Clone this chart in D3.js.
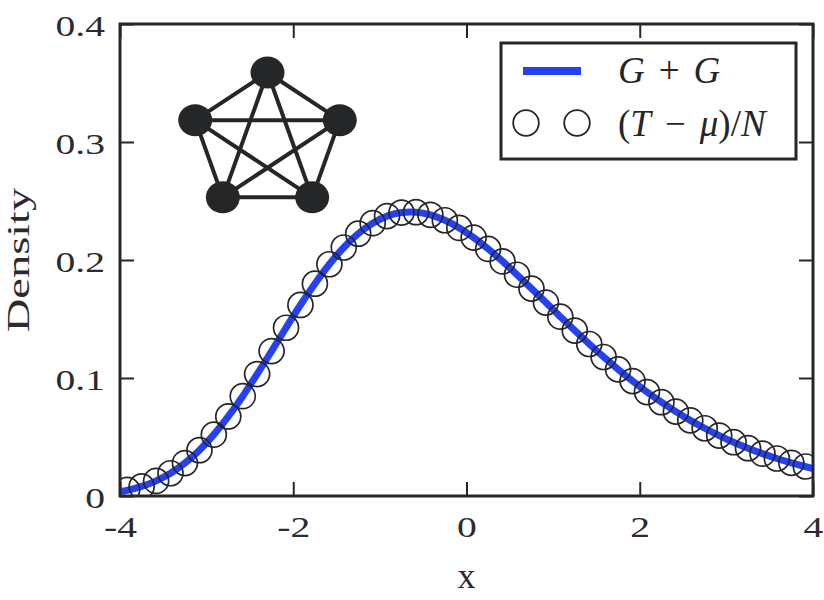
<!DOCTYPE html>
<html><head><meta charset="utf-8">
<script src="https://cdn.jsdelivr.net/npm/d3@7"></script>
<style>body{margin:0;background:#fff} svg{display:block}</style>
</head><body><svg id="c" width="824" height="600"></svg>
<script>
// ---- data ----
const xTicks = [-4, -2, 0, 2, 4];
const xTickLabels = ["-4", "-2", "0", "2", "4"];
const yTicks = [0, 0.1, 0.2, 0.3, 0.4];
const yTickLabels = ["0", "0.1", "0.2", "0.3", "0.4"];

// G + G density (line)
const lineX = [-4.000,-3.917,-3.750,-3.583,-3.417,-3.250,-3.083,-2.917,-2.750,-2.583,-2.417,-2.250,-2.083,-1.917,-1.750,-1.583,-1.417,-1.250,-1.083,-0.917,-0.750,-0.583,-0.417,-0.250,-0.083,0.083,0.250,0.417,0.583,0.750,0.917,1.083,1.250,1.417,1.583,1.750,1.917,2.083,2.250,2.417,2.583,2.750,2.917,3.083,3.250,3.417,3.583,3.750,3.917,4.000];
const lineY = [0.0037,0.0048,0.0081,0.0128,0.0193,0.0279,0.0388,0.0520,0.0674,0.0846,0.1033,0.1228,0.1426,0.1619,0.1799,0.1964,0.2106,0.2223,0.2312,0.2372,0.2402,0.2405,0.2383,0.2337,0.2272,0.2190,0.2094,0.1988,0.1875,0.1758,0.1639,0.1520,0.1402,0.1288,0.1178,0.1073,0.0974,0.0881,0.0795,0.0715,0.0641,0.0574,0.0512,0.0456,0.0405,0.0359,0.0318,0.0281,0.0248,0.0233];

// (T - mu)/N  (circles)
const circleX = [-3.917,-3.750,-3.583,-3.417,-3.250,-3.083,-2.917,-2.750,-2.583,-2.417,-2.250,-2.083,-1.917,-1.750,-1.583,-1.417,-1.250,-1.083,-0.917,-0.750,-0.583,-0.417,-0.250,-0.083,0.083,0.250,0.417,0.583,0.750,0.917,1.083,1.250,1.417,1.583,1.750,1.917,2.083,2.250,2.417,2.583,2.750,2.917,3.083,3.250,3.417,3.583,3.750,3.917];
const circleY = [0.0052,0.0081,0.0128,0.0193,0.0279,0.0388,0.0520,0.0674,0.0846,0.1033,0.1228,0.1426,0.1619,0.1799,0.1964,0.2106,0.2223,0.2312,0.2372,0.2402,0.2405,0.2383,0.2337,0.2272,0.2190,0.2094,0.1988,0.1875,0.1758,0.1639,0.1520,0.1402,0.1288,0.1178,0.1073,0.0974,0.0881,0.0795,0.0715,0.0641,0.0574,0.0512,0.0456,0.0405,0.0359,0.0318,0.0281,0.0250];

// inset graph K5 (pentagon vertex angles, degrees)
const nodeAngles = [-90, -18, 54, 126, 198];

// ---- drawing ----
const W = 824, H = 600;
const svg = d3.select("#c");
const ink = "#252628";
const blue = "#2541f2";
const font = "'Liberation Serif','Times New Roman',serif";

const x = d3.scaleLinear().domain([-4, 4]).range([120, 813]);
const y = d3.scaleLinear().domain([0, 0.4]).range([496, 24]);

svg.append("rect").attr("width", W).attr("height", H).attr("fill", "#fff");

svg.append("defs").append("clipPath").attr("id", "pc")
  .append("rect").attr("x", x(-4)).attr("y", y(0.4))
  .attr("width", x(4) - x(-4)).attr("height", y(0) - y(0.4));

// axes (inward ticks, mirrored)
const tl = 14;
const gL = svg.append("g").attr("transform", `translate(${x(-4)},0)`)
  .call(d3.axisLeft(y).tickValues(yTicks).tickSize(-tl).tickPadding(0).tickFormat((d, i) => yTickLabels[i]));
const gB = svg.append("g").attr("transform", `translate(0,${y(0)})`)
  .call(d3.axisBottom(x).tickValues(xTicks).tickSize(-tl).tickPadding(0).tickFormat((d, i) => xTickLabels[i]));
const gR = svg.append("g").attr("transform", `translate(${x(4)},0)`)
  .call(d3.axisRight(y).tickValues(yTicks).tickSize(-tl).tickFormat(""));
const gT = svg.append("g").attr("transform", `translate(0,${y(0.4)})`)
  .call(d3.axisTop(x).tickValues(xTicks).tickSize(-tl).tickFormat(""));
[gL, gB, gR, gT].forEach(g => {
  g.select(".domain").remove();
  g.selectAll(".tick line").attr("stroke", ink).attr("stroke-width", 2);
});
const sx = 1.32;
gL.selectAll(".tick text")
  .attr("font-family", font).attr("font-size", 30).attr("fill", "#2b2b2d")
  .attr("text-anchor", "end").attr("dy", null)
  .attr("x", -15 / sx).attr("y", 11)
  .attr("transform", `scale(${sx},1)`);
gB.selectAll(".tick text")
  .attr("font-family", font).attr("font-size", 30).attr("fill", "#2b2b2d")
  .attr("text-anchor", "middle").attr("dy", null)
  .attr("y", 41).attr("x", 0)
  .attr("transform", `scale(${sx},1)`);

// axis labels
svg.append("text").attr("x", (x(-4) + x(4)) / 2).attr("y", 588)
  .attr("text-anchor", "middle").attr("font-family", font).attr("font-size", 36)
  .attr("fill", "#2b2b2d").text("x");
svg.append("text")
  .attr("transform", `translate(29,${(y(0) + y(0.4)) / 2}) rotate(-90) scale(1.45,1)`)
  .attr("text-anchor", "middle").attr("font-family", font).attr("font-size", 32)
  .attr("fill", "#2b2b2d").text("Density");

// plot content
const plot = svg.append("g").attr("clip-path", "url(#pc)");
const lineData = lineX.map((v, i) => [v, lineY[i]]);
plot.append("path").datum(lineData)
  .attr("d", d3.line().x(d => x(d[0])).y(d => y(d[1])).curve(d3.curveCatmullRom))
  .attr("fill", "none").attr("stroke", blue).attr("stroke-width", 7);
const circData = circleX.map((v, i) => [v, circleY[i]]);
plot.selectAll("circle.pt").data(circData).join("circle").attr("class", "pt")
  .attr("cx", d => x(d[0])).attr("cy", d => y(d[1])).attr("r", 12.5)
  .attr("fill", "none").attr("stroke", ink).attr("stroke-width", 1.7);

// frame
svg.append("rect").attr("x", x(-4)).attr("y", y(0.4))
  .attr("width", x(4) - x(-4)).attr("height", y(0) - y(0.4))
  .attr("fill", "none").attr("stroke", ink).attr("stroke-width", 3);

// inset K5 graph
const gc = { x: 267.5, y: 141.5, rx: 76, ry: 69 };
const nodes = nodeAngles.map(a => ({ x: gc.x + gc.rx * Math.cos(a * Math.PI / 180), y: gc.y + gc.ry * Math.sin(a * Math.PI / 180) }));
const edges = [];
for (let i = 0; i < nodes.length; i++) for (let j = i + 1; j < nodes.length; j++) edges.push([nodes[i], nodes[j]]);
const gg = svg.append("g");
gg.selectAll("line").data(edges).join("line")
  .attr("x1", d => d[0].x).attr("y1", d => d[0].y).attr("x2", d => d[1].x).attr("y2", d => d[1].y)
  .attr("stroke", ink).attr("stroke-width", 4);
gg.selectAll("ellipse").data(nodes).join("ellipse")
  .attr("cx", d => d.x).attr("cy", d => d.y).attr("rx", 17).attr("ry", 16).attr("fill", ink);

// legend
const lg = svg.append("g");
lg.append("rect").attr("x", 501).attr("y", 43).attr("width", 295).attr("height", 116)
  .attr("fill", "#fff").attr("stroke", ink).attr("stroke-width", 3);
lg.append("line").attr("x1", 523).attr("x2", 581).attr("y1", 71).attr("y2", 71)
  .attr("stroke", blue).attr("stroke-width", 8);
lg.selectAll("circle").data([526, 577]).join("circle")
  .attr("cx", d => d).attr("cy", 123).attr("r", 12.8)
  .attr("fill", "none").attr("stroke", ink).attr("stroke-width", 1.8);
const t1 = lg.append("text").attr("x", 618).attr("y", 83).attr("font-family", font).attr("font-size", 37).attr("fill", ink);
t1.append("tspan").attr("font-style", "italic").text("G");
t1.append("tspan").attr("dx", 14).text("+");
t1.append("tspan").attr("dx", 14).attr("font-style", "italic").text("G");
const t2 = lg.append("text").attr("x", 618).attr("y", 136).attr("font-family", font).attr("font-size", 37).attr("fill", ink);
t2.append("tspan").text("(");
t2.append("tspan").attr("font-style", "italic").text("T");
t2.append("tspan").attr("dx", 14).text("−");
t2.append("tspan").attr("dx", 14).attr("font-style", "italic").text("μ");
t2.append("tspan").text(")/");
t2.append("tspan").attr("font-style", "italic").text("N");
</script></body></html>
